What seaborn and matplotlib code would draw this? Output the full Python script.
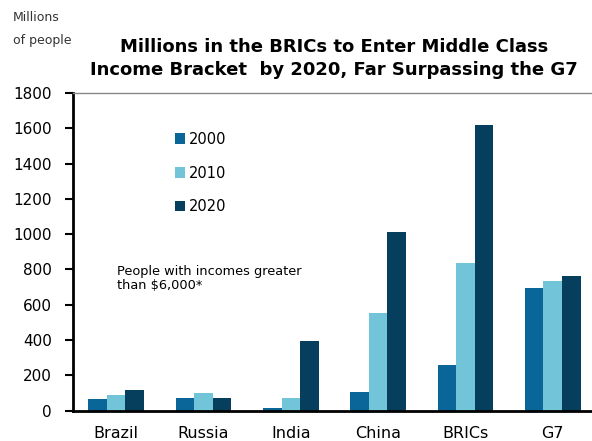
import numpy as np
import pandas as pd
import matplotlib
matplotlib.use("Agg")
import matplotlib.pyplot as plt
import seaborn as sns

regions = ["Brazil", "Russia", "India", "China", "BRICs", "G7"]
years = ["2000", "2010", "2020"]
v2000 = [65, 74, 12, 105, 260, 696]
v2010 = [87, 97, 74, 553, 837, 734]
v2020 = [116, 74, 396, 1011, 1620, 762]
yticks = [0, 200, 400, 600, 800, 1000, 1200, 1400, 1600, 1800]

colors = {"2000": "#0A6699", "2010": "#72C4D9", "2020": "#063F5E"}

df = pd.DataFrame({
    "region": regions * 3,
    "year": [y for y in years for _ in regions],
    "value": v2000 + v2010 + v2020,
})

sns.set_theme(style="white")
plt.rcParams["font.family"] = ["DejaVu Sans"]
plt.rcParams["text.color"] = "black"
plt.rcParams["xtick.color"] = "black"
plt.rcParams["ytick.color"] = "black"

fig = plt.figure(figsize=(5.92, 4.41), dpi=100)
ax = fig.add_axes([0.1225, 0.069, 0.885, 0.72])

sns.barplot(data=df, x="region", y="value", hue="year", order=regions,
            hue_order=years, palette=colors, width=0.64, saturation=1,
            edgecolor="none", ax=ax)

ax.set_ylim(0, 1800)
ax.set_xlim(-0.5, 5.5)
ax.set_yticks(yticks)
ax.set_yticklabels([str(t) for t in yticks], fontsize=11)
ax.set_xlabel("")
ax.set_ylabel("")
ax.set_xticks(range(len(regions)))
ax.set_xticklabels(regions, fontsize=11.5)
ax.tick_params(axis="x", which="major", length=0, pad=11)
ax.set_xticks(np.arange(-0.5, 6, 1), minor=True)
ax.tick_params(axis="x", which="minor", length=5, width=1.5, color="black", direction="out")
ax.tick_params(axis="y", length=6, width=1.5, color="black", direction="out", left=True, pad=9)

for s in ["left", "bottom"]:
    ax.spines[s].set_color("black")
    ax.spines[s].set_linewidth(2)
ax.spines["top"].set_color("#888888")
ax.spines["top"].set_linewidth(1)
ax.spines["right"].set_visible(False)

leg = ax.legend(loc="upper left", bbox_to_anchor=(0.17, 0.92), frameon=False,
                fontsize=10.5, handlelength=0.7, handleheight=0.7,
                handletextpad=0.3, labelspacing=1.3)

ax.text(0.085, 0.46, "People with incomes greater\nthan $6,000*",
        transform=ax.transAxes, fontsize=9.3, va="top", ha="left", linespacing=1.15)

fig.text(0.022, 0.975, "Millions\nof people", fontsize=9, va="top", ha="left",
         linespacing=2.0, color="#333333")
fig.text(0.564, 0.867, "Millions in the BRICs to Enter Middle Class\n"
         "Income Bracket  by 2020, Far Surpassing the G7",
         fontsize=13, fontweight="bold", ha="center", va="center",
         linespacing=1.4)

fig.savefig("out.png", dpi=100)
